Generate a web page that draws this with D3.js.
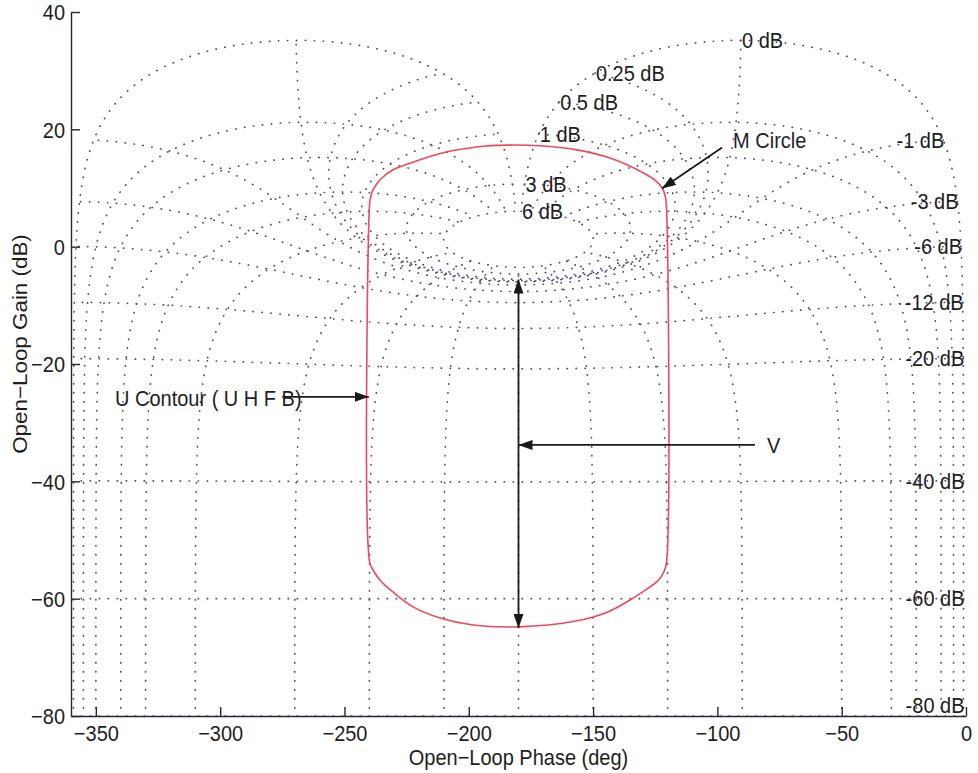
<!DOCTYPE html>
<html><head><meta charset="utf-8">
<script src="https://cdn.jsdelivr.net/npm/d3@7"></script>
<style>
body{margin:0;background:#fff}
text{font-family:"Liberation Sans",Arial,Helvetica,sans-serif;fill:#1e1e1e}
</style>
</head><body>
<svg id="chart" width="978" height="773"></svg>
<script>
// ---------- data ----------
const xTicks = [-350,-300,-250,-200,-150,-100,-50,0];
const yTicks = [40,20,0,-20,-40,-60,-80];
// closed-loop magnitude (M circles), dB
const mCircleDb = [6,3,1,0.5,0.25,0,-1,-3,-6,-12,-20,-40,-60,-80];
// closed-loop phase (N lines), deg
const nLinePhase = [-1,-5,-10,-20,-30,-50,-90,-120,-150,-180,-210,-240,-270,-310,-330,-340,-350,-355,-359];
// U contour (UHFB): open-loop phase (deg), gain (dB)
const uPhase = [-240.0,-239.7,-238.8,-237.2,-235.7,-230.5,-222.4,-210.4,-196.7,-184.6,-171.4,-156.5,-143.2,-129.9,-125.0,-122.2,-120.9,-120.5,
                -120.5,-121.6,-123.8,-127.1,-133.9,-144.3,-158.0,-179.7,-198.2,-211.5,-222.4,-230.4,-235.6,-238.4,-239.8];
const uGain  = [6.5,8.0,9.4,10.6,11.4,13.1,14.4,16.0,17.0,17.3,17.2,16.5,15.1,12.6,11.3,10.0,8.5,6.8,
                -53.9,-55.5,-56.9,-58.0,-59.9,-62.3,-63.9,-64.8,-64.5,-63.3,-61.4,-58.9,-56.9,-55.2,-53.9];
// annotations (data coords)
const annText = [
  {t:"M Circle", p:-93.7, g:18.2},
  {t:"U Contour ( U H F B)", p:-342.3, g:-25.8},
  {t:"V", p:-80.0, g:-33.8}
];
const annArrows = [
  {p1:-98.1, g1:16.9, p2:-122.3, g2:9.9},
  {p1:-275.0, g1:-25.6, p2:-240.2, g2:-25.6},
  {p1:-84.9, g1:-33.8, p2:-180, g2:-33.8},
  {p1:-180, g1:-34, p2:-180, g2:-5.6},
  {p1:-180, g1:-34, p2:-180, g2:-65.0}
];

// ---------- layout ----------
const svg = d3.select("#chart");
const x = d3.scaleLinear().domain([-360,0]).range([71,966]);
const y = d3.scaleLinear().domain([-80,40]).range([716,12]);
const FS = 20, SY = 1.12;
const txt = (sel, px, py, extra) => sel.attr("x",0).attr("y",0)
  .attr("transform","translate("+px+","+py+") scale(1,"+SY+")"+(extra||""));

const defs = svg.append("defs");
defs.append("clipPath").attr("id","clip")
  .append("rect").attr("x",71).attr("y",12).attr("width",895).attr("height",704);
defs.append("marker").attr("id","ah").attr("viewBox","0 0 14 10").attr("refX",14).attr("refY",5)
  .attr("markerWidth",14).attr("markerHeight",10).attr("markerUnits","userSpaceOnUse").attr("orient","auto")
  .append("path").attr("d","M0,0L14,5L0,10Z").attr("fill","#1a1a1a");

// ---------- Nichols grid ----------
function olPoint(Mdb, thDeg){
  const M = Math.pow(10, Mdb/20), th = thDeg*Math.PI/180;
  const re = 1 - M*Math.cos(th), im = -M*Math.sin(th);
  const arg = Math.atan2(im, re)*180/Math.PI;
  return [thDeg - arg, 20*Math.log10(M/Math.hypot(re,im))];
}
const line = d3.line().x(d=>x(d[0])).y(d=>y(d[1]));
const gridG = svg.append("g").attr("clip-path","url(#clip)");
const gridStyle = s => s.attr("fill","none").attr("stroke","#4a4a72").attr("stroke-width",1.7)
  .attr("stroke-linecap","round").attr("stroke-dasharray","0.3 8.7");

const thetas = d3.range(-1, -359.001, -0.25);
mCircleDb.forEach(m=>{
  const pts = thetas.map(t=>olPoint(m,t));
  gridG.append("path").attr("d",line(pts)).call(gridStyle);
});
const mdbs = d3.range(-140,-20,0.5).concat(d3.range(-20,-2,0.02)).concat(d3.range(-2,2,0.002)).concat(d3.range(2,6.0001,0.02));
nLinePhase.forEach(p=>{
  const pts = mdbs.map(m=>olPoint(m,p));
  gridG.append("path").attr("d",line(pts)).call(gridStyle);
});

// grid labels at closed-loop phase -1 deg
mCircleDb.forEach(m=>{
  const pt = olPoint(m,-1);
  const yy = Math.min(y(pt[1]), 705);
  svg.append("text").call(txt, x(pt[0])+1, yy)
    .attr("dy","0.35em").attr("text-anchor", m>=0?"start":"end")
    .attr("font-size",FS).text(m+" dB");
});

// ---------- U contour ----------
const uPts = uPhase.map((p,i)=>[p,uGain[i]]);
svg.append("path").attr("d", d3.line().x(d=>x(d[0])).y(d=>y(d[1])).curve(d3.curveCatmullRomClosed.alpha(0.5))(uPts))
  .attr("fill","none").attr("stroke","#ec4a5a").attr("stroke-width",1.6);

// ---------- axes ----------
const ax = svg.append("g").attr("transform","translate(0,716)")
  .call(d3.axisBottom(x).tickValues(xTicks).tickSizeInner(-9).tickSizeOuter(0).tickFormat(d=>d===0?"0":"\u2212"+Math.abs(d)));
const ay = svg.append("g").attr("transform","translate(71,0)")
  .call(d3.axisLeft(y).tickValues(yTicks).tickSizeInner(-9).tickSizeOuter(0).tickFormat(d=>d<0?"\u2212"+Math.abs(d):d));
[ax,ay].forEach(a=>{
  a.selectAll("path.domain").attr("stroke","#26263a").attr("stroke-width",1.4);
  a.selectAll(".tick line").attr("stroke","#26263a").attr("stroke-width",1.4);
  a.selectAll("text").attr("font-size",FS).attr("fill","#1e1e1e").attr("font-family","Liberation Sans, Arial, sans-serif");
});
ax.selectAll(".tick text").call(txt, 0, 17).attr("dy","0.35em");
ay.selectAll(".tick text").call(txt, -6, 0).attr("dy","0.35em");

svg.append("text").call(txt, (71+966)/2, 757).attr("dy","0.35em").attr("text-anchor","middle")
  .attr("font-size",FS).text("Open\u2212Loop Phase (deg)");
svg.append("text").call(txt, 20, 344, " rotate(-90)").attr("dy","0.35em").attr("text-anchor","middle")
  .attr("font-size",FS).text("Open\u2212Loop Gain (dB)");

// ---------- annotations ----------
annArrows.forEach(a=>{
  svg.append("line").attr("x1",x(a.p1)).attr("y1",y(a.g1)).attr("x2",x(a.p2)).attr("y2",y(a.g2))
    .attr("stroke","#1a1a1a").attr("stroke-width",1.8).attr("marker-end","url(#ah)");
});
annText.forEach(a=>{
  svg.append("text").call(txt, x(a.p), y(a.g)).attr("dy","0.35em").attr("text-anchor","start")
    .attr("font-size",FS).text(a.t);
});
</script>
</body></html>
